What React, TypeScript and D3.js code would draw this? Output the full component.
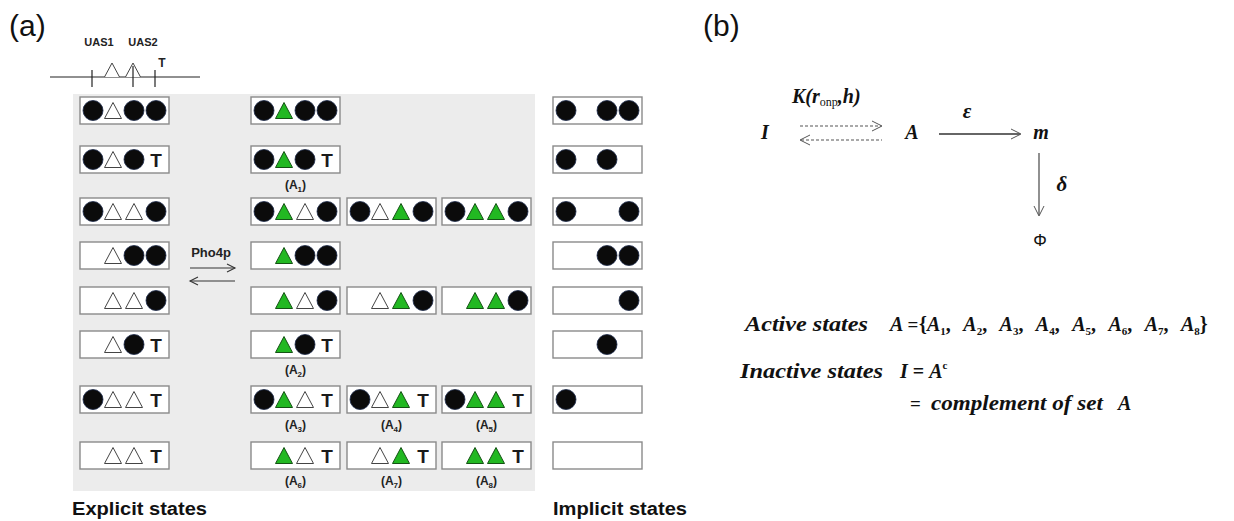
import React from "react";
import * as d3 from "d3";

// ---------- data ----------
const rows = [0, 1, 2, 3, 4, 5, 6, 7];
// C = bound circle, O = open (empty) UAS triangle, G = green (Pho4p bound) triangle, T = TATA, _ = empty
const explicitStates = ["COCC", "COCT", "COOC", "_OCC", "_OOC", "_OCT", "COOT", "_OOT"];
const activeStates = [
  ["CGCC"],
  ["CGCT"],
  ["CGOC", "COGC", "CGGC"],
  ["_GCC"],
  ["_GOC", "_OGC", "_GGC"],
  ["_GCT"],
  ["CGOT", "COGT", "CGGT"],
  ["_GOT", "_OGT", "_GGT"],
];
const activeLabels = [
  [""],
  ["1"],
  ["", "", ""],
  [""],
  ["", "", ""],
  ["2"],
  ["3", "4", "5"],
  ["6", "7", "8"],
];
const implicitStates = ["C_CC", "C_C_", "C__C", "__CC", "___C", "__C_", "C___", "____"];
const siteLabels = ["UAS1", "UAS2"];
const activeSet = ["1", "2", "3", "4", "5", "6", "7", "8"];
const columns = ["explicit", "a0", "a1", "a2", "implicit"];

// ---------- scales ----------
const rowY = d3.scaleOrdinal<number, number>().domain(rows).range([97, 146, 198, 242, 287, 331, 386, 442]);
const colX = d3.scaleOrdinal<string, number>().domain(columns).range([80, 251, 347, 442, 553]);
const slotX = d3.scaleOrdinal<number, number>().domain([0, 1, 2, 3]).range([13, 33, 54, 76]);
const setX = d3.scalePoint<string>().domain(activeSet).range([927, 1181]);

const BOX_W = 89;
const BOX_H = 27;
const GREEN = "#22b822";
const SANS = "'Liberation Sans', Arial, sans-serif";
const SERIF = "'Liberation Serif', 'Times New Roman', serif";
const MATH_W = 600;

function Symbol({ code, cx, cy }: { code: string; cx: number; cy: number }) {
  if (code === "C") {
    return <circle cx={cx} cy={cy} r={10} fill="#0b0b0b" stroke="#1c2a4a" strokeWidth={0.8} />;
  }
  if (code === "O" || code === "G") {
    const w = 17;
    const h = 16;
    const top = cy - h / 2;
    const path = `M${cx - w / 2},${top + h} L${cx},${top} L${cx + w / 2},${top + h} Z`;
    return (
      <path
        d={path}
        fill={code === "G" ? GREEN : "#ffffff"}
        stroke={code === "G" ? "#145214" : "#444"}
        strokeWidth={1}
        strokeLinejoin="miter"
      />
    );
  }
  if (code === "T") {
    return (
      <text x={cx} y={cy + 7} textAnchor="middle" fontFamily={SANS} fontWeight="bold" fontSize={19} fill="#1a1a1a">
        T
      </text>
    );
  }
  return null;
}

function StateBox({ x, y, state }: { x: number; y: number; state: string }) {
  const cy = y + BOX_H / 2;
  return (
    <g>
      <rect x={x} y={y} width={BOX_W} height={BOX_H} fill="#ffffff" stroke="#8a8a8a" strokeWidth={1.4} />
      {state.split("").map((c, i) => (
        <Symbol key={i} code={c} cx={x + slotX(i)} cy={cy} />
      ))}
    </g>
  );
}

function ALabel({ cx, y, sub }: { cx: number; y: number; sub: string }) {
  return (
    <text x={cx} y={y} textAnchor="middle" fontFamily={SANS} fontWeight="bold" fontSize={12} fill="#222">
      (A<tspan fontSize={8} dy={3}>{sub}</tspan>
      <tspan dy={-3}>)</tspan>
    </text>
  );
}

function chevron(x: number, y: number, dir: "r" | "l" | "d", len = 9, half = 5) {
  if (dir === "r") return `M${x - len},${y - half} L${x},${y} L${x - len},${y + half}`;
  if (dir === "l") return `M${x + len},${y - half} L${x},${y} L${x + len},${y + half}`;
  return `M${x - half},${y - len} L${x},${y} L${x + half},${y - len}`;
}

export default function App() {
  return (
    <div style={{ position: "fixed", left: 0, top: 0, width: 1234, height: 521, background: "#fff" }}>
      <svg width={1234} height={521} viewBox="0 0 1234 521">
        <rect x={0} y={0} width={1234} height={521} fill="#ffffff" />

        {/* ===== panel (a) ===== */}
        <text x={9} y={36} fontFamily={SANS} fontSize={30} fill="#111">(a)</text>

        {/* gene schematic */}
        {siteLabels.map((s, i) => (
          <text key={s} x={[99, 143][i]} y={46} textAnchor="middle" fontFamily={SANS} fontWeight="bold" fontSize={11} fill="#222">
            {s}
          </text>
        ))}
        <text x={162} y={67} textAnchor="middle" fontFamily={SANS} fontWeight="bold" fontSize={12} fill="#222">T</text>
        <line x1={50} y1={77} x2={200} y2={77} stroke="#222" strokeWidth={1.2} />
        {[92, 155].map((x) => (
          <line key={x} x1={x} y1={70} x2={x} y2={87} stroke="#222" strokeWidth={1.2} />
        ))}
        <path d="M104.5,77 L112,63 L119.5,77" fill="#fff" stroke="#444" strokeWidth={1} />
        <path d="M125.5,77 L133,63 L140.5,77" fill="#fff" stroke="#444" strokeWidth={1} />
        <line x1={133} y1={66} x2={133} y2={87} stroke="#222" strokeWidth={1.2} />

        {/* gray panel */}
        <rect x={73} y={94} width={462} height={397} fill="#ececec" />

        {/* explicit states */}
        {rows.map((r) => (
          <StateBox key={"e" + r} x={colX("explicit")} y={rowY(r)} state={explicitStates[r]} />
        ))}

        {/* active states */}
        {rows.map((r) =>
          activeStates[r].map((s, j) => (
            <g key={"a" + r + "-" + j}>
              <StateBox x={colX(columns[1 + j])} y={rowY(r)} state={s} />
              {activeLabels[r][j] !== "" && (
                <ALabel cx={colX(columns[1 + j]) + BOX_W / 2} y={rowY(r) + BOX_H + 16} sub={activeLabels[r][j]} />
              )}
            </g>
          ))
        )}

        {/* implicit states */}
        {rows.map((r) => (
          <StateBox key={"i" + r} x={colX("implicit")} y={rowY(r)} state={implicitStates[r]} />
        ))}

        {/* Pho4p arrows */}
        <text x={211} y={257} textAnchor="middle" fontFamily={SANS} fontWeight="bold" fontSize={13} fill="#222">Pho4p</text>
        <line x1={190} y1={268} x2={235} y2={268} stroke="#333" strokeWidth={1.2} />
        <path d={chevron(235, 268, "r", 8, 4)} fill="none" stroke="#333" strokeWidth={1.1} />
        <line x1={190} y1={281} x2={235} y2={281} stroke="#333" strokeWidth={1.2} />
        <path d={chevron(190, 281, "l", 8, 4)} fill="none" stroke="#333" strokeWidth={1.1} />

        <text x={72} y={515} fontFamily={SANS} fontWeight="bold" fontSize={18} fill="#111" textLength={135} lengthAdjust="spacingAndGlyphs">
          Explicit states
        </text>
        <text x={553} y={515} fontFamily={SANS} fontWeight="bold" fontSize={18} fill="#111" textLength={134} lengthAdjust="spacingAndGlyphs">
          Implicit states
        </text>

        {/* ===== panel (b) ===== */}
        <text x={703} y={36} fontFamily={SANS} fontSize={30} fill="#111">(b)</text>

        <text x={765} y={139} textAnchor="middle" fontFamily={SERIF} fontStyle="italic" fontWeight={MATH_W} fontSize={20} fill="#111">I</text>
        <text x={912} y={139} textAnchor="middle" fontFamily={SERIF} fontStyle="italic" fontWeight={MATH_W} fontSize={20} fill="#111">A</text>
        <text x={1041} y={139} textAnchor="middle" fontFamily={SERIF} fontStyle="italic" fontWeight={MATH_W} fontSize={20} fill="#111">m</text>

        <text x={792} y={103} fontFamily={SERIF} fontStyle="italic" fontWeight="bold" fontSize={20} fill="#111">
          K(r
          <tspan fontStyle="normal" fontWeight="normal" fontSize={12} dy={3}>onp</tspan>
          <tspan dy={-3}>,h)</tspan>
        </text>

        {/* dashed reversible arrows */}
        <line x1={800} y1={126} x2={881} y2={126} stroke="#555" strokeWidth={1.2} strokeDasharray="3,2" />
        <path d={chevron(882, 126, "r", 10, 5)} fill="none" stroke="#555" strokeWidth={1} />
        <line x1={801} y1={140} x2={882} y2={140} stroke="#555" strokeWidth={1.2} strokeDasharray="3,2" />
        <path d={chevron(800, 140, "l", 10, 5)} fill="none" stroke="#555" strokeWidth={1} />

        {/* transcription arrow */}
        <text x={967} y={118} textAnchor="middle" fontFamily={SERIF} fontStyle="italic" fontWeight="bold" fontSize={21} fill="#111">ε</text>
        <line x1={939} y1={134} x2={1020} y2={134} stroke="#333" strokeWidth={1.3} />
        <path d={chevron(1021, 134, "r", 10, 5)} fill="none" stroke="#555" strokeWidth={1} />

        {/* decay arrow */}
        <line x1={1039} y1={153} x2={1039} y2={215} stroke="#555" strokeWidth={1.3} />
        <path d={chevron(1039, 216, "d", 10, 5)} fill="none" stroke="#555" strokeWidth={1} />
        <text x={1062} y={191} textAnchor="middle" fontFamily={SERIF} fontStyle="italic" fontWeight="bold" fontSize={21} fill="#111">δ</text>
        <text x={1040} y={246} textAnchor="middle" fontFamily={SANS} fontSize={17} fill="#111">Φ</text>

        {/* set definitions */}
        <text x={745} y={331} fontFamily={SERIF} fontStyle="italic" fontWeight={MATH_W} fontSize={20} fill="#111" textLength={123} lengthAdjust="spacingAndGlyphs">
          Active states
        </text>
        <text x={890} y={331} fontFamily={SERIF} fontStyle="italic" fontWeight={MATH_W} fontSize={20} fill="#111">A</text>
        <text x={913} y={331} textAnchor="middle" fontFamily={SERIF} fontWeight={MATH_W} fontSize={19} fill="#111">=</text>
        <text x={919} y={331} fontFamily={SERIF} fontWeight={MATH_W} fontSize={20} fill="#111">{"{"}</text>
        {activeSet.map((s, i) => (
          <text key={s} x={setX(s) as number} y={331} fontFamily={SERIF} fontStyle="italic" fontWeight={MATH_W} fontSize={20} fill="#111">
            A<tspan fontStyle="normal" fontSize={11} dy={4}>{s}</tspan>
            <tspan fontStyle="normal" dy={-4}>{i < activeSet.length - 1 ? "," : "}"}</tspan>
          </text>
        ))}

        <text x={740} y={378} fontFamily={SERIF} fontStyle="italic" fontWeight={MATH_W} fontSize={20} fill="#111" textLength={143} lengthAdjust="spacingAndGlyphs">
          Inactive states
        </text>
        <text x={900} y={378} fontFamily={SERIF} fontStyle="italic" fontWeight={MATH_W} fontSize={20} fill="#111">
          I<tspan fontStyle="normal"> = </tspan>A<tspan fontStyle="normal" fontSize={11} dy={-9}>c</tspan>
        </text>
        <text x={910} y={410} fontFamily={SERIF} fontWeight={MATH_W} fontSize={19} fill="#111">=</text>
        <text x={931} y={410} fontFamily={SERIF} fontStyle="italic" fontWeight={MATH_W} fontSize={20} fill="#111" textLength={172} lengthAdjust="spacingAndGlyphs">
          complement of set
        </text>
        <text x={1118} y={410} fontFamily={SERIF} fontStyle="italic" fontWeight={MATH_W} fontSize={20} fill="#111">A</text>
      </svg>
    </div>
  );
}
